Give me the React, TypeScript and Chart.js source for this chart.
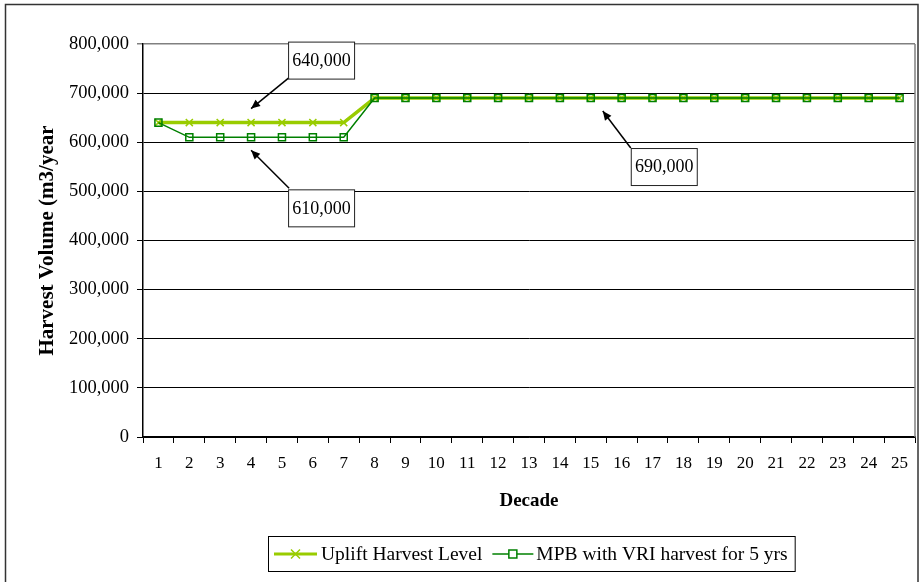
import React, { useEffect, useRef } from "react";
import { Chart, registerables } from "chart.js";

Chart.register(...registerables);

const decades: string[] = Array.from({ length: 25 }, (_, i) => String(i + 1));
const upliftValues: number[] = [640000, 640000, 640000, 640000, 640000, 640000, 640000, 690000, 690000, 690000, 690000, 690000, 690000, 690000, 690000, 690000, 690000, 690000, 690000, 690000, 690000, 690000, 690000, 690000, 690000];
const mpbValues: number[] = [640000, 610000, 610000, 610000, 610000, 610000, 610000, 690000, 690000, 690000, 690000, 690000, 690000, 690000, 690000, 690000, 690000, 690000, 690000, 690000, 690000, 690000, 690000, 690000, 690000];
const seriesNames: string[] = ["Uplift Harvest Level", "MPB with VRI harvest for 5 yrs"];
const annotations = [
  { text: "640,000", index: 3, value: 640000 },
  { text: "610,000", index: 3, value: 610000 },
  { text: "690,000", index: 14, value: 690000 },
];

const FONT = "'Liberation Serif', 'Times New Roman', serif";
const UPLIFT = "#99CC00";
const MPB = "#008000";

function drawArrow(ctx: CanvasRenderingContext2D, x1: number, y1: number, x2: number, y2: number) {
  ctx.save();
  ctx.strokeStyle = "#000";
  ctx.fillStyle = "#000";
  ctx.lineWidth = 1.5;
  ctx.beginPath();
  ctx.moveTo(x1, y1);
  ctx.lineTo(x2, y2);
  ctx.stroke();
  const ang = Math.atan2(y2 - y1, x2 - x1);
  const len = 9;
  const w = 4;
  ctx.beginPath();
  ctx.moveTo(x2, y2);
  ctx.lineTo(x2 - len * Math.cos(ang) + w * Math.sin(ang), y2 - len * Math.sin(ang) - w * Math.cos(ang));
  ctx.lineTo(x2 - len * Math.cos(ang) - w * Math.sin(ang), y2 - len * Math.sin(ang) + w * Math.cos(ang));
  ctx.closePath();
  ctx.fill();
  ctx.restore();
}

function drawBox(ctx: CanvasRenderingContext2D, text: string, left: number, top: number) {
  const w = 66, h = 37;
  ctx.save();
  ctx.fillStyle = "#fff";
  ctx.fillRect(left, top, w, h);
  ctx.strokeStyle = "#222";
  ctx.lineWidth = 1;
  ctx.strokeRect(left + 0.5, top + 0.5, w, h);
  ctx.fillStyle = "#000";
  ctx.font = `18px ${FONT}`;
  ctx.textAlign = "center";
  ctx.textBaseline = "middle";
  ctx.fillText(text, left + w / 2 + 0.5, top + h / 2 + 1);
  ctx.restore();
}

const decorPlugin = {
  id: "decor",
  beforeDraw(chart: any) {
    const ctx = chart.ctx as CanvasRenderingContext2D;
    ctx.save();
    ctx.fillStyle = "#fff";
    ctx.fillRect(0, 0, chart.width, chart.height);
    ctx.strokeStyle = "#333";
    ctx.lineWidth = 1.5;
    ctx.strokeRect(5.5, 4.5, 912.5, 600);
    ctx.restore();
  },
  beforeDatasetsDraw(chart: any) {
    const ctx = chart.ctx as CanvasRenderingContext2D;
    const a = chart.chartArea;
    ctx.save();
    ctx.strokeStyle = "#808080";
    ctx.lineWidth = 1.5;
    ctx.beginPath();
    ctx.moveTo(a.right, a.top);
    ctx.lineTo(a.right, a.bottom);
    ctx.stroke();
    ctx.restore();
  },
  afterDraw(chart: any) {
    const ctx = chart.ctx as CanvasRenderingContext2D;
    const xs = chart.scales.x;
    const ys = chart.scales.y;
    const a0 = annotations[0];
    {
      const tx = xs.getPixelForValue(a0.index);
      const ty = ys.getPixelForValue(a0.value) - 14;
      drawArrow(ctx, tx + 38, ty - 31, tx, ty);
      drawBox(ctx, a0.text, tx + 37, ty - 67);
    }
    const a1 = annotations[1];
    {
      const tx = xs.getPixelForValue(a1.index);
      const ty = ys.getPixelForValue(a1.value) + 13;
      drawArrow(ctx, tx + 38, ty + 38, tx, ty);
      drawBox(ctx, a1.text, tx + 37, ty + 39);
    }
    const a2 = annotations[2];
    {
      const tx = xs.getPixelForValue(a2.index) + 12;
      const ty = ys.getPixelForValue(a2.value) + 13;
      drawArrow(ctx, tx + 28, ty + 37, tx, ty);
      drawBox(ctx, a2.text, tx + 28, ty + 37);
    }
    // legend
    ctx.save();
    ctx.font = `19.5px ${FONT}`;
    const t1 = ctx.measureText(seriesNames[0]).width;
    const t2 = ctx.measureText(seriesNames[1]).width;
    const sample = 43;
    const total = 6 + sample + 4 + t1 + 10 + 41 + 3 + t2 + 7;
    const left = Math.round(531 - total / 2);
    const top = 536;
    const h = 35;
    ctx.fillStyle = "#fff";
    ctx.fillRect(left, top, total, h);
    ctx.strokeStyle = "#000";
    ctx.lineWidth = 1;
    ctx.strokeRect(left + 0.5, top + 0.5, total, h);
    const cy = top + h / 2 + 0.5;
    let x = left + 6;
    ctx.strokeStyle = UPLIFT;
    ctx.lineWidth = 3;
    ctx.beginPath();
    ctx.moveTo(x, cy);
    ctx.lineTo(x + sample, cy);
    ctx.stroke();
    ctx.lineWidth = 1.5;
    const mx = x + sample / 2;
    ctx.beginPath();
    ctx.moveTo(mx - 4.5, cy - 4.5);
    ctx.lineTo(mx + 4.5, cy + 4.5);
    ctx.moveTo(mx - 4.5, cy + 4.5);
    ctx.lineTo(mx + 4.5, cy - 4.5);
    ctx.stroke();
    x += sample + 4;
    ctx.fillStyle = "#000";
    ctx.textBaseline = "middle";
    ctx.textAlign = "left";
    ctx.fillText(seriesNames[0], x, cy + 1);
    x += t1 + 10;
    ctx.strokeStyle = MPB;
    ctx.lineWidth = 1.5;
    ctx.beginPath();
    ctx.moveTo(x, cy);
    ctx.lineTo(x + 41, cy);
    ctx.stroke();
    const mx2 = x + 41 / 2;
    ctx.fillStyle = "#fff";
    ctx.fillRect(mx2 - 4, cy - 4, 8, 8);
    ctx.strokeRect(mx2 - 4, cy - 4, 8, 8);
    x += 41 + 3;
    ctx.fillStyle = "#000";
    ctx.fillText(seriesNames[1], x, cy + 1);
    ctx.restore();
  },
};

export default function App() {
  const ref = useRef<HTMLCanvasElement | null>(null);
  useEffect(() => {
    if (!ref.current) return;
    const chart = new Chart(ref.current, {
      type: "line",
      data: {
        labels: decades,
        datasets: [
          {
            label: seriesNames[0],
            data: upliftValues,
            borderColor: UPLIFT,
            backgroundColor: UPLIFT,
            borderWidth: 3.5,
            pointStyle: "crossRot",
            pointRadius: 5,
            pointBorderWidth: 1.5,
            pointBorderColor: UPLIFT,
            tension: 0,
            order: 2,
          },
          {
            label: seriesNames[1],
            data: mpbValues,
            borderColor: MPB,
            backgroundColor: "rgba(0,0,0,0)",
            borderWidth: 1.5,
            pointStyle: "rect",
            pointRadius: 5,
            pointBorderWidth: 1.5,
            pointBorderColor: MPB,
            pointBackgroundColor: "rgba(0,0,0,0)",
            tension: 0,
            order: 1,
          },
        ],
      },
      options: {
        responsive: false,
        animation: false,
        events: [],
        layout: { padding: { left: 31, top: 44, right: 9, bottom: 60 } },
        plugins: { legend: { display: false }, tooltip: { enabled: false } },
        scales: {
          x: {
            type: "category",
            offset: true,
            afterFit: (s: any) => { s.height = 85; },
            grid: {
              offset: true,
              drawOnChartArea: false,
              drawTicks: true,
              tickLength: 6,
              color: "#000",
              lineWidth: 1,
            },
            border: { color: "#000", width: 1.5 },
            ticks: {
              color: "#000",
              font: { family: FONT, size: 17 },
              padding: 10,
              maxRotation: 0,
              autoSkip: false,
            },
            title: {
              display: true,
              text: "Decade",
              color: "#000",
              font: { family: FONT, size: 19, weight: "bold" },
              padding: { top: 4, bottom: 10 },
            },
          },
          y: {
            min: 0,
            max: 800000,
            afterFit: (s: any) => { s.width = 112; },
            grid: {
              drawTicks: true,
              tickLength: 6,
              color: (c: any) => (c.tick && c.tick.value === 800000 ? "#808080" : "#000"),
              lineWidth: (c: any) => (c.tick && c.tick.value === 800000 ? 1.5 : 1),
            },
            border: { color: "#000", width: 1.5 },
            ticks: {
              stepSize: 100000,
              color: "#000",
              font: { family: FONT, size: 18.5 },
              padding: 8,
              callback: (v: any) => Number(v).toLocaleString("en-US"),
            },
            title: {
              display: true,
              text: "Harvest Volume (m3/year",
              color: "#000",
              font: { family: FONT, size: 21, weight: "bold" },
              padding: { top: 4, bottom: 4 },
            },
          },
        },
      },
      plugins: [decorPlugin],
    });
    return () => chart.destroy();
  }, []);
  return (
    <div style={{ position: "fixed", left: 0, top: 0, width: 924, height: 582 }}>
      <canvas ref={ref} width={924} height={582} />
    </div>
  );
}
